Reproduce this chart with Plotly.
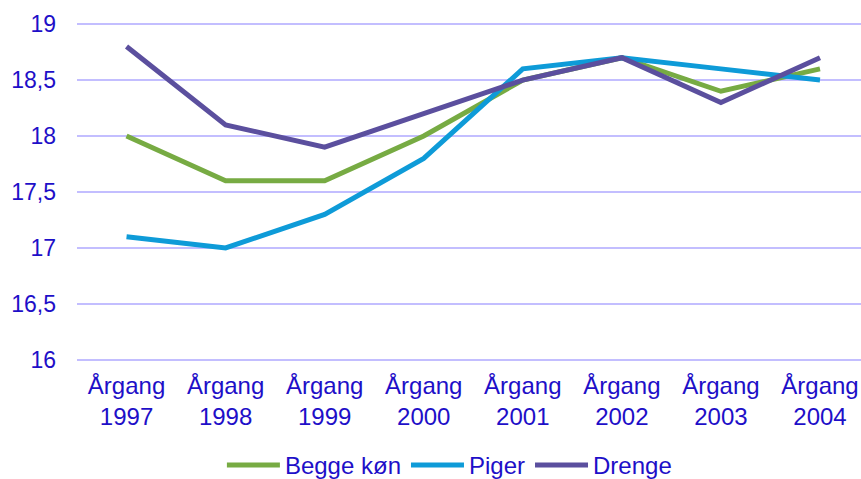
import plotly.graph_objects as go

categories = ["Årgang<br>1997", "Årgang<br>1998", "Årgang<br>1999", "Årgang<br>2000",
              "Årgang<br>2001", "Årgang<br>2002", "Årgang<br>2003", "Årgang<br>2004"]
begge = [18.0, 17.6, 17.6, 18.0, 18.5, 18.7, 18.4, 18.6]
piger = [17.1, 17.0, 17.3, 17.8, 18.6, 18.7, 18.6, 18.5]
drenge = [18.8, 18.1, 17.9, 18.2, 18.5, 18.7, 18.3, 18.7]
y_ticks = [16, 16.5, 17, 17.5, 18, 18.5, 19]
y_labels = ["16", "16,5", "17", "17,5", "18", "18,5", "19"]

txt = "#1E0FC8"
font = "Liberation Sans, Arial, sans-serif"
xs = list(range(len(categories)))

fig = go.Figure()
for name, vals, col in [("Begge køn", begge, "#77AB43"),
                        ("Piger", piger, "#0E9BD8"),
                        ("Drenge", drenge, "#5B4F9E")]:
    fig.add_trace(go.Scatter(x=xs, y=vals, name=name, mode="lines",
                             line=dict(color=col, width=5), hoverinfo="skip"))

fig.update_layout(
    width=861, height=479,
    margin=dict(l=77, r=0, t=23, b=118, autoexpand=False),
    plot_bgcolor="white", paper_bgcolor="white",
    font=dict(family=font, size=23, color=txt),
    showlegend=True,
    legend=dict(orientation="h", x=0.475, xanchor="center", y=-0.309, yanchor="middle",
                font=dict(size=24, color=txt), itemwidth=53, tracegroupgap=0),
    xaxis=dict(tickmode="array", tickvals=xs, ticktext=categories, automargin=False,
               range=[-0.5, 7.414], showgrid=False, zeroline=False, showline=False,
               ticks="", ticklabelstandoff=8, tickfont=dict(size=24, color=txt)),
    yaxis=dict(range=[15.99, 19.01], tickmode="array", tickvals=y_ticks, ticktext=y_labels,
               automargin=False,
               showgrid=True, gridcolor="#C3BEFF", gridwidth=2, zeroline=False,
               showline=False, ticks="", ticklabelstandoff=20,
               tickfont=dict(size=23, color=txt)),
)
fig.write_html("out.html", config={"displayModeBar": False, "staticPlot": True},
               post_script="document.body.style.margin='0';document.body.style.overflow='hidden';")
